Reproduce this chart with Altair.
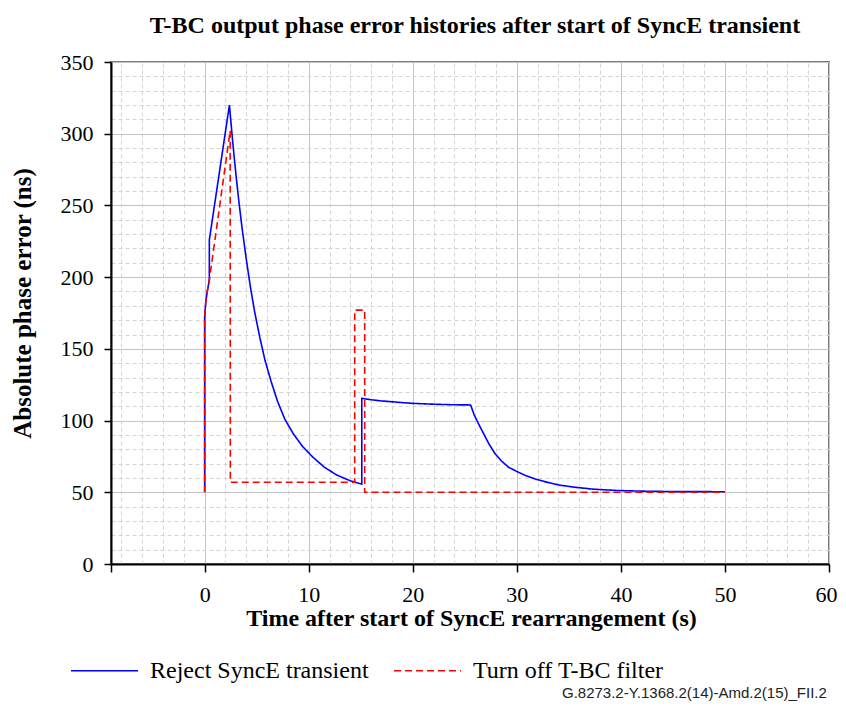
import altair as alt
import pandas as pd

series_names = ["Reject SyncE transient", "Turn off T-BC filter"]
series_colors = ["#0000ff", "#ff0000"]

# Reject SyncE transient (blue, solid)
t_reject = [0, 0, 0.1, 0.25, 0.45, 0.45, 2.38, 2.7, 3.0, 3.3, 3.6, 4.0, 4.4,
            4.8, 5.3, 5.8, 6.4, 7.0, 7.7, 8.5, 9.4, 10.4, 11.5, 12.7, 14.0,
            15.1, 15.1, 16, 17, 18.5, 20, 22, 24, 25.56, 25.9, 26.3, 26.8,
            27.3, 27.9, 28.5, 29.2, 30.0, 30.9, 31.8, 32.9, 34.1, 35.6, 37.3,
            39.5, 42, 45, 50]
v_reject = [50, 172, 182, 190, 198, 226, 320, 294, 272, 252, 234, 212.5, 193,
            176, 158, 142, 127, 113.5, 101, 91, 82, 74.5, 67.5, 62, 58,
            55.7, 115.5, 114.5, 113.7, 112.8, 112, 111.4, 111, 110.9, 104, 98, 91,
            84, 77, 72, 67.5, 64.5, 61.5, 59.2, 57, 55, 53.5, 52.2,
            51.3, 50.8, 50.5, 50.4]

# Turn off T-BC filter (red, dashed)
t_filter = [0, 0, 0.1, 0.25, 0.45, 2.45, 2.47, 14.42, 14.42, 15.38, 15.38, 50]
v_filter = [50, 172, 182, 190, 198, 302, 57, 57, 177, 177, 50, 50]

x_ticks = [-9, 0, 10, 20, 30, 40, 50, 60]
x_minor = [-8, -6, -4, -2, 2, 4, 6, 8, 12, 14, 16, 18, 22, 24, 26, 28,
           32, 34, 36, 38, 42, 44, 46, 48, 52, 54, 56, 58]
y_ticks = [0, 50, 100, 150, 200, 250, 300, 350]
y_minor = [10, 20, 30, 40, 60, 70, 80, 90, 110, 120, 130, 140, 160, 170, 180,
           190, 210, 220, 230, 240, 260, 270, 280, 290, 310, 320, 330, 340]

footer_text = "G.8273.2-Y.1368.2(14)-Amd.2(15)_FII.2"
title_text = "T-BC output phase error histories after start of SyncE transient"

rows = []
for name, ts, vs in [(series_names[0], t_reject, v_reject),
                     (series_names[1], t_filter, v_filter)]:
    for i, (t, v) in enumerate(zip(ts, vs)):
        rows.append({"series": name, "t": t, "v": v, "idx": i})
df = pd.DataFrame(rows)

SERIF = "Liberation Serif"
xscale = alt.Scale(domain=[-9, 60], nice=False, zero=False)
yscale = alt.Scale(domain=[0, 350], nice=False)

base = alt.Chart(df)

minor = base.mark_line(opacity=0).encode(
    x=alt.X("t:Q", scale=xscale,
            axis=alt.Axis(orient="top", values=x_minor, grid=True,
                          gridDash=[4, 3], gridColor="#d4d4d4", gridWidth=1,
                          labels=False, ticks=False, domain=False, title=None)),
    y=alt.Y("v:Q", scale=yscale,
            axis=alt.Axis(orient="right", values=y_minor, grid=True,
                          gridDash=[4, 3], gridColor="#d4d4d4", gridWidth=1,
                          labels=False, ticks=False, domain=False, title=None)),
    detail="series:N",
)

legend = alt.Legend(
    title=None, orient="none", legendX=-41, legendY=574, direction="horizontal",
    symbolType="stroke", symbolSize=4489, symbolStrokeWidth=1.5,
    labelFont=SERIF, labelFontSize=24, labelColor="black", labelOffset=11,
    columnPadding=22, padding=0, labelLimit=400,
)

main = base.mark_line(strokeWidth=1.6).encode(
    x=alt.X("t:Q", scale=xscale,
            axis=alt.Axis(orient="bottom", values=x_ticks, grid=True,
                          gridColor="#c4c4c4", gridWidth=1,
                          labelExpr="datum.value < 0 ? '' : datum.label",
                          labelFlush=True, labelFlushOffset=8, labelOverlap=False,
                          labelFont=SERIF, labelFontSize=22, labelColor="black",
                          labelPadding=12, tickSize=8, tickWidth=1.5,
                          tickColor="black", domainColor="black", domainWidth=2,
                          title="Time after start of SyncE rearrangement (s)",
                          titleFont=SERIF, titleFontSize=24, titleFontWeight="bold",
                          titleColor="black", titleX=360, titleY=61,
                          titleAlign="center", titleBaseline="alphabetic")),
    y=alt.Y("v:Q", scale=yscale,
            axis=alt.Axis(orient="left", values=y_ticks, grid=True,
                          gridColor="#c4c4c4", gridWidth=1,
                          labelFlush=False, labelOverlap=False,
                          labelFont=SERIF, labelFontSize=22, labelColor="black",
                          labelPadding=11, tickSize=7, tickWidth=1.5,
                          tickColor="black", domainColor="black", domainWidth=2,
                          title="Absolute phase error (ns)",
                          titleFont=SERIF, titleFontSize=25, titleFontWeight="bold",
                          titleColor="black", titleX=-89, titleY=241,
                          titleAngle=270, titleAlign="center",
                          titleBaseline="middle")),
    color=alt.Color("series:N", scale=alt.Scale(domain=series_names, range=series_colors),
                    legend=legend),
    strokeDash=alt.StrokeDash("series:N",
                              scale=alt.Scale(domain=series_names, range=[[1, 0], [7, 4]]),
                              legend=legend),
    order="idx:Q",
)

footer = alt.Chart(pd.DataFrame({"label": [footer_text]})).mark_text(
    align="left", baseline="middle", font="Liberation Sans", fontSize=15,
    color="#222222",
).encode(text="label:N", x=alt.value(451), y=alt.value(631))

chart = alt.layer(minor, main, footer).resolve_axis(
    x="independent", y="independent"
).properties(
    width=718, height=502,
    autosize=alt.AutoSizeParams(type="none"),
    padding={"left": 103, "top": 54, "right": 9, "bottom": 137},
    title=alt.Title(title_text, font=SERIF, fontSize=24, fontWeight="bold",
                    color="black", anchor="middle", frame="group", offset=13, dx=5),
).configure_view(stroke="#7a7a7a", strokeWidth=2)

chart.save("out.html", embed_options={"renderer": "svg", "actions": False})
